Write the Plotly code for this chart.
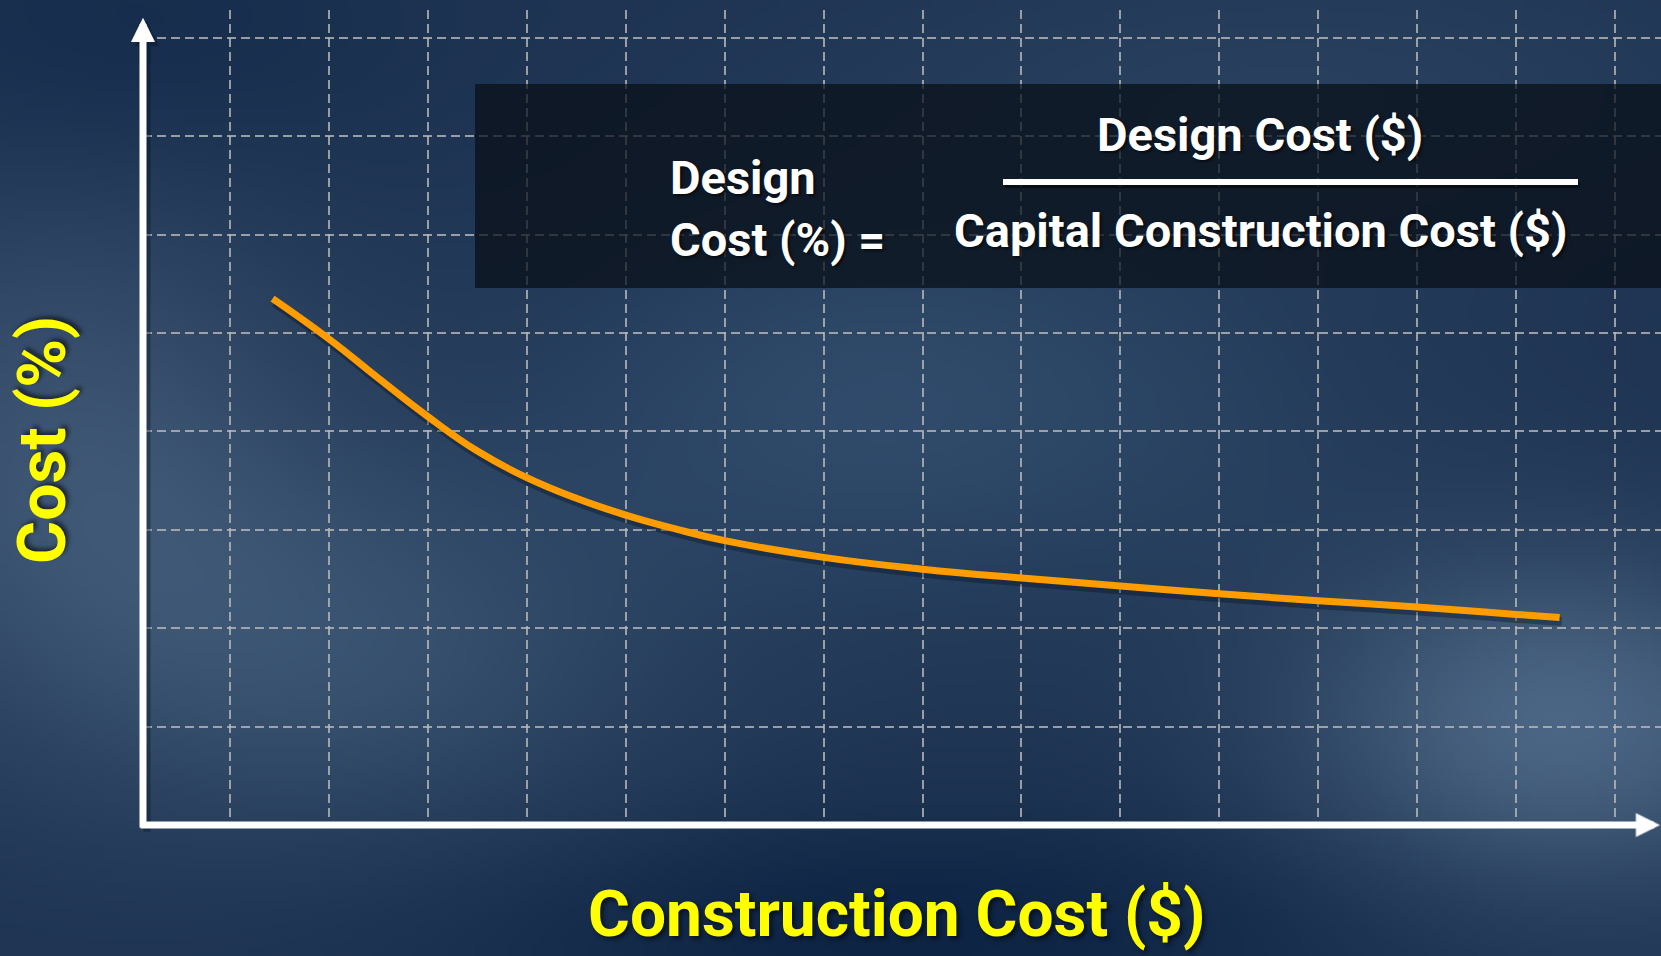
import base64
import struct
import zlib

import numpy as np
import plotly.graph_objects as go

# ---- data: design cost share vs. construction cost (arbitrary units) ----
construction_cost = [1.43, 2, 2.5, 3, 3.5, 4, 4.5, 5, 5.5, 6, 7, 8, 9, 10, 11, 12, 13, 14, 14.44]
design_cost_pct = [5.35, 4.94, 4.54, 4.15, 3.80, 3.53, 3.32, 3.15, 3.01, 2.89, 2.72, 2.60, 2.51,
                   2.43, 2.35, 2.28, 2.215, 2.14, 2.11]

x_title = "Construction Cost ($)"
y_title = "Cost (%)"
lhs_lines = ["Design", "Cost (%) ="]
numerator = "Design Cost ($)"
denominator = "Capital Construction Cost ($)"

W, H = 1661, 956
ML, MR, MT, MB = 143, 0, 10, 131
X_RANGE = [0.12, 15.465]
Y_RANGE = [0.0, 8.283]
PW, PH = W - ML - MR, H - MT - MB
XPX = PW / (X_RANGE[1] - X_RANGE[0])   # pixels per x unit
YPX = PH / (Y_RANGE[1] - Y_RANGE[0])   # pixels per y unit

FONT = "Liberation Sans Narrow, Roboto, Liberation Sans, sans-serif"


def px(x):
    """page pixel x -> paper x"""
    return (x - ML) / PW


def py(y):
    """page pixel y -> paper y"""
    return (H - MB - y) / PH


# ---- cloudy blue backdrop rendered as a small PNG ----
def backdrop(w=332, h=191):
    s = W / w
    yy, xx = np.mgrid[0:h, 0:w].astype(float)
    xx *= s
    yy *= s
    img = np.zeros((h, w, 3)) + np.array([30, 52, 82], float)
    blobs = [
        (60, 450, 260, 260, (28, 30, 30)),
        (350, 650, 320, 200, (22, 26, 26)),
        (850, 400, 320, 200, (16, 20, 22)),
        (1560, 720, 260, 170, (45, 50, 50)),
        (1300, 90, 420, 140, (10, 12, 12)),
        (900, 930, 450, 110, (-16, -16, -14)),
        (120, 40, 260, 140, (-8, -8, -6)),
        (1200, 420, 300, 200, (6, 8, 8)),
    ]
    for cx, cy, sx, sy, d in blobs:
        g = np.exp(-(((xx - cx) / sx) ** 2 + ((yy - cy) / sy) ** 2))
        img += g[..., None] * np.array(d, float)
    arr = np.clip(img, 0, 255).astype(np.uint8)
    raw = b"".join(b"\x00" + arr[r].tobytes() for r in range(h))

    def chunk(tag, data):
        return (struct.pack(">I", len(data)) + tag + data
                + struct.pack(">I", zlib.crc32(tag + data) & 0xFFFFFFFF))

    png = (b"\x89PNG\r\n\x1a\n"
           + chunk(b"IHDR", struct.pack(">IIBBBBB", w, h, 8, 2, 0, 0, 0))
           + chunk(b"IDAT", zlib.compress(raw, 9))
           + chunk(b"IEND", b""))
    return "data:image/png;base64," + base64.b64encode(png).decode()


fig = go.Figure()

# soft drop shadow of the curve, on a copy of the axes nudged a few pixels
fig.add_trace(go.Scatter(
    x=construction_cost, y=design_cost_pct, mode="lines", xaxis="x2", yaxis="y2",
    line=dict(color="rgba(5,15,30,0.35)", width=9, shape="spline", smoothing=1.3),
    hoverinfo="skip", showlegend=False,
))
# the curve itself, on an unshifted overlay drawn above the shadow
fig.add_trace(go.Scatter(
    x=construction_cost, y=design_cost_pct, mode="lines", xaxis="x3", yaxis="y3",
    line=dict(color="#FF9C00", width=7, shape="spline", smoothing=1.3),
    hoverinfo="skip", showlegend=False,
))

grid_style = dict(showgrid=True, gridcolor="rgba(185,185,185,0.8)", gridwidth=1.5,
                  griddash="9px,5px", zeroline=False, showline=False,
                  showticklabels=False, ticks="", tick0=1, dtick=1)
hidden = dict(showgrid=False, zeroline=False, showline=False, showticklabels=False, ticks="")

fig.update_layout(
    width=W, height=H, autosize=False,
    margin=dict(l=ML, r=MR, t=MT, b=MB, pad=0),
    paper_bgcolor="rgb(30,52,82)", plot_bgcolor="rgba(0,0,0,0)",
    xaxis=dict(range=X_RANGE, **grid_style),
    yaxis=dict(range=Y_RANGE, **grid_style),
    xaxis2=dict(range=[X_RANGE[0] - 2 / XPX, X_RANGE[1] - 2 / XPX], overlaying="x", **hidden),
    yaxis2=dict(range=[Y_RANGE[0] + 4 / YPX, Y_RANGE[1] + 4 / YPX], overlaying="y", **hidden),
    xaxis3=dict(range=X_RANGE, overlaying="x", **hidden),
    yaxis3=dict(range=Y_RANGE, overlaying="y", **hidden),
    images=[dict(source=backdrop(), xref="paper", yref="paper",
                 x=px(0), y=py(0), sizex=W / PW, sizey=H / PH,
                 xanchor="left", yanchor="top", sizing="stretch", layer="below")],
)

# dark formula panel
fig.add_shape(type="rect", xref="paper", yref="paper",
              x0=px(475), x1=px(W), y0=py(288), y1=py(84),
              fillcolor="rgba(8,14,22,0.72)", line=dict(width=0), layer="above")
# fraction bar with a faint shadow
fig.add_shape(type="line", xref="paper", yref="paper",
              x0=px(1005), x1=px(1580), y0=py(185), y1=py(185),
              line=dict(color="rgba(0,0,0,0.5)", width=6), layer="above")
fig.add_shape(type="line", xref="paper", yref="paper",
              x0=px(1003), x1=px(1578), y0=py(182), y1=py(182),
              line=dict(color="white", width=6), layer="above")

# axes drawn as white arrows, each with a soft shadow underneath
arrow = dict(showarrow=True, arrowhead=2, arrowsize=0.69, arrowwidth=7,
             text="", xref="x", yref="y", axref="x", ayref="y")
sx, sy = 4 / XPX, 4 / YPX
for dx, dy, col in [(sx, -sy, "rgba(5,15,30,0.35)"), (0, 0, "white")]:
    fig.add_annotation(x=X_RANGE[1] - 0.01 + dx, y=Y_RANGE[0] + dy,
                       ax=X_RANGE[0] - 0.04 + dx, ay=Y_RANGE[0] + dy,
                       arrowcolor=col, **arrow)
    fig.add_annotation(x=X_RANGE[0] + dx, y=Y_RANGE[1] - 0.08 + dy,
                       ax=X_RANGE[0] + dx, ay=Y_RANGE[0] - 0.04 + dy,
                       arrowcolor=col, **arrow)

white = dict(family=FONT, size=47, color="white", weight="bold",
             shadow="2px 2px 3px rgba(0,0,0,0.6)")
yellow = dict(family=FONT, size=64, color="#FFFF00", weight="bold",
              shadow="3px 3px 4px rgba(0,0,0,0.55)")

fig.add_annotation(text=lhs_lines[0], xref="paper", yref="paper", x=px(668), y=py(177),
                   xanchor="left", yanchor="middle", showarrow=False, font=white)
fig.add_annotation(text=lhs_lines[1], xref="paper", yref="paper", x=px(668), y=py(239),
                   xanchor="left", yanchor="middle", showarrow=False, font=white)
fig.add_annotation(text=numerator, xref="paper", yref="paper", x=px(1260), y=py(134),
                   xanchor="center", yanchor="middle", showarrow=False, font=white)
fig.add_annotation(text=denominator, xref="paper", yref="paper", x=px(1260), y=py(230),
                   xanchor="center", yanchor="middle", showarrow=False, font=white)

fig.add_annotation(text=x_title, xref="paper", yref="paper", x=px(897), y=py(914),
                   xanchor="center", yanchor="middle", showarrow=False, font=yellow)
fig.add_annotation(text=y_title, xref="paper", yref="paper", x=px(42), y=py(440),
                   xanchor="center", yanchor="middle", showarrow=False, textangle=-90,
                   font=dict(yellow, size=66))

fig.write_html("out.html")
